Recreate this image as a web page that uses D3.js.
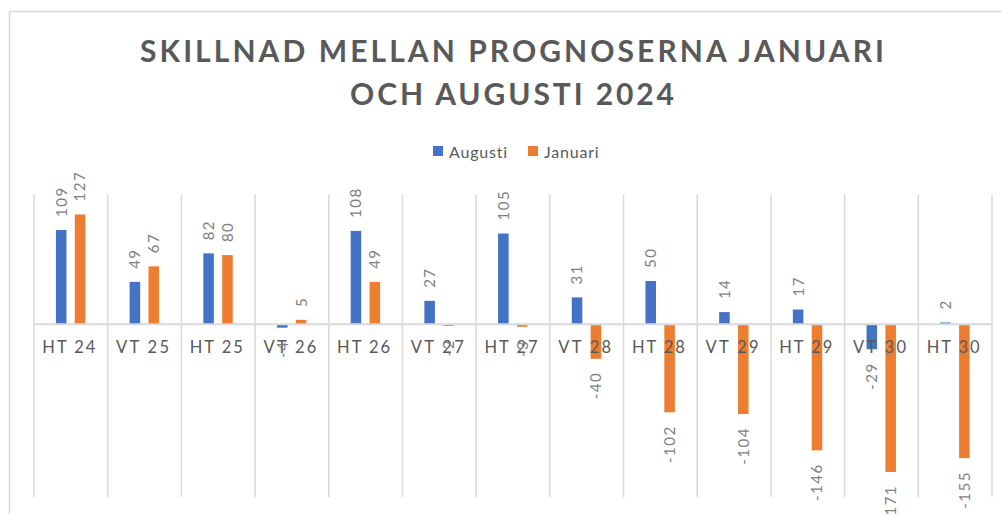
<!DOCTYPE html>
<html>
<head>
<meta charset="utf-8">
<script src="https://cdn.jsdelivr.net/npm/d3@7"></script>
<style>
  html, body { margin: 0; padding: 0; background: #fff; }
  svg { display: block; }
  text { font-family: Lato, "Open Sans", sans-serif; }
</style>
</head>
<body>
<svg id="chart" width="1002" height="514"></svg>
<script>
const titleLines = ["SKILLNAD MELLAN PROGNOSERNA JANUARI", "OCH AUGUSTI 2024"];
const categories = ["HT 24","VT 25","HT 25","VT 26","HT 26","VT 27","HT 27","VT 28","HT 28","VT 29","HT 29","VT 30","HT 30"];
const seriesNames = ["Augusti", "Januari"];
const augusti = [109, 49, 82, -4, 108, 27, 105, 31, 50, 14, 17, -29, 2];
const januari = [127, 67, 80, 5, 49, -2, -3, -40, -102, -104, -146, -171, -155];
const yDomain = [-200, 150];

const colors = ["#4472C4", "#ED7D31"];
const series = [augusti, januari];

const svg = d3.select("#chart");
const W = 1002, H = 514;

// outer frame (only left and top edges visible)
svg.append("path")
  .attr("d", `M9.5,${H} L9.5,11.5 L${W},11.5`)
  .attr("fill", "none").attr("stroke", "#d9d9d9").attr("stroke-width", 1.5);

const x = d3.scaleBand().domain(categories).range([34, 992]).paddingInner(0).paddingOuter(0);
const y = d3.scaleLinear().domain(yDomain).range([497, 194.6]);
const bw = x.bandwidth();
const barW = bw * 0.143;
const offs = [-bw * 0.131, bw * 0.125];

// vertical category separators
const bounds = categories.map(c => x(c)).concat([x(categories[categories.length - 1]) + bw]);
svg.append("g").selectAll("line").data(bounds).join("line")
  .attr("x1", d => d).attr("x2", d => d)
  .attr("y1", y(yDomain[1])).attr("y2", y(yDomain[0]))
  .attr("stroke", "#d9d9d9").attr("stroke-width", 1.5);

// bars
series.forEach((vals, si) => {
  svg.append("g").selectAll("rect").data(vals).join("rect")
    .attr("x", (d, i) => x(categories[i]) + bw / 2 + offs[si] - barW / 2)
    .attr("width", barW)
    .attr("y", d => y(Math.max(0, d)))
    .attr("height", d => Math.abs(y(d) - y(0)))
    .attr("fill", colors[si]);
});

// zero line
svg.append("line")
  .attr("x1", x.range()[0]).attr("x2", x.range()[1])
  .attr("y1", y(0)).attr("y2", y(0))
  .attr("stroke", "#d9d9d9").attr("stroke-width", 2);

// category labels
svg.append("g").selectAll("text").data(categories).join("text")
  .attr("x", d => x(d) + bw / 2 - 2)
  .attr("y", y(0) + 29)
  .attr("text-anchor", "middle")
  .attr("font-size", 16.5)
  .attr("fill", "#595959")
  .attr("textLength", 53)
  .attr("lengthAdjust", "spacing")
  .text(d => d);

// data labels
series.forEach((vals, si) => {
  svg.append("g").selectAll("text").data(vals).join("text")
    .attr("transform", (d, i) => {
      const cx = x(categories[i]) + bw / 2 + offs[si];
      const py = d >= 0 ? y(d) - 13 : y(d) + 13;
      return `translate(${cx},${py}) rotate(-90)`;
    })
    .attr("text-anchor", d => d >= 0 ? "start" : "end")
    .attr("dy", "0.36em")
    .attr("font-size", 15)
    .attr("letter-spacing", 1.5)
    .attr("fill", "#7f7f7f")
    .text(d => d);
});

// title
svg.append("text")
  .attr("x", 512).attr("y", 62)
  .attr("text-anchor", "middle")
  .attr("font-size", 30).attr("font-weight", "bold")
  .attr("fill", "#595959")
  .attr("textLength", 744).attr("lengthAdjust", "spacing")
  .text(titleLines[0]);
svg.append("text")
  .attr("x", 512).attr("y", 105)
  .attr("text-anchor", "middle")
  .attr("font-size", 30).attr("font-weight", "bold")
  .attr("fill", "#595959")
  .attr("textLength", 324).attr("lengthAdjust", "spacing")
  .text(titleLines[1]);

// legend
const legendX = [433, 528];
seriesNames.forEach((n, i) => {
  svg.append("rect").attr("x", legendX[i]).attr("y", 146).attr("width", 10).attr("height", 10).attr("fill", colors[i]);
  svg.append("text").attr("x", legendX[i] + 16).attr("y", 158)
    .attr("font-size", 16).attr("fill", "#595959")
    .attr("letter-spacing", 0.8)
    .text(n);
});
</script>
</body>
</html>
